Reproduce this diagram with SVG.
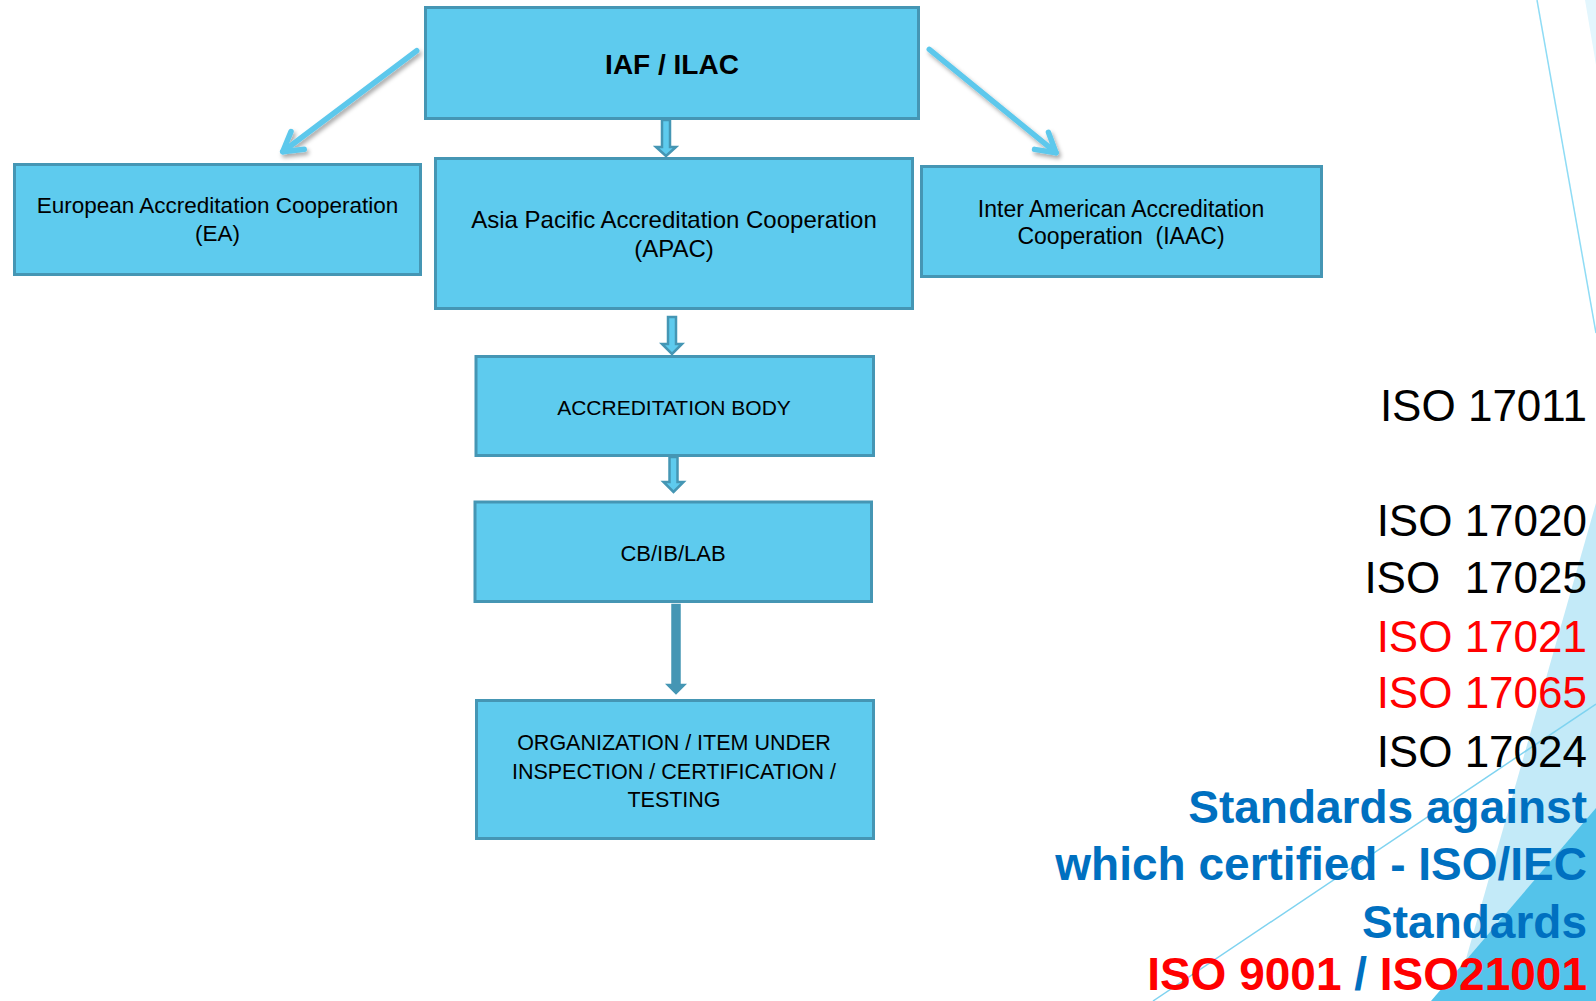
<svg xmlns="http://www.w3.org/2000/svg" width="1596" height="1001" viewBox="0 0 1596 1001">
<style>
.box{fill:#5ecbee;stroke:#4596b4;stroke-width:3}
.nt{font-family:"Liberation Sans",Arial,sans-serif;fill:#000;text-anchor:middle}
.blk{fill:#5ecbee;stroke:#4596b4;stroke-width:2.5;stroke-linejoin:miter}
.diag{fill:none;stroke:#5dc8ec;stroke-width:5.5;stroke-linecap:round;stroke-linejoin:round}
.iso{font-family:"Liberation Sans",Arial,sans-serif;font-size:44px;text-anchor:end}
.bb{font-family:"Liberation Sans",Arial,sans-serif;font-size:46px;font-weight:bold;text-anchor:end}
</style>
<defs>
<filter id="sh" x="-20%" y="-20%" width="140%" height="140%">
<feDropShadow dx="2" dy="3" stdDeviation="2" flood-color="#000" flood-opacity="0.35"/>
</filter>
<marker id="chev" markerUnits="userSpaceOnUse" markerWidth="40" markerHeight="40" viewBox="-25 -20 30 40" refX="0" refY="0" orient="auto">
<path d="M -18.7,-11 L 0,0 L -18.7,11" fill="none" stroke="#5dc8ec" stroke-width="5.5" stroke-linecap="round" stroke-linejoin="round"/>
</marker>
</defs>
<rect width="1596" height="1001" fill="#fff"/>
<g id="background">
<polygon points="1585,0 1596,0 1596,65" fill="#e3f6fd"/>
<line x1="1537" y1="0" x2="1596" y2="333" stroke="#8fdcf5" stroke-width="1.5"/>
<polygon points="1596,503 1596,1001 1454,1001" fill="#c3eaf8"/>
<polygon points="1596,808 1596,1001 1431,1001" fill="#54c3ea"/>
<line x1="1596" y1="704" x2="1153" y2="1001" stroke="#7fd3f0" stroke-width="1.5"/>
</g>
<g id="connectors">
<g filter="url(#sh)">
<line class="diag" x1="416.7" y1="50.7" x2="282.7" y2="151.7" marker-end="url(#chev)"/>
<line class="diag" x1="929.3" y1="49.3" x2="1056" y2="152.7" marker-end="url(#chev)"/>
</g>
<path class="blk" d="M662,120 V147 H656 L666,156 L676,147 H670 V120 Z"/>
<path class="blk" d="M668,317 V344 H662 L672,354 L682,344 H676 V317 Z"/>
<path class="blk" d="M669.5,457 V482 H663.5 L673.5,492 L683.5,482 H677.5 V457 Z"/>
<path class="blk" style="fill:#4596b4" d="M672.5,605 V685 H668 L676,693 L684,685 H679.5 V605 Z"/>
</g>
<g id="node-iaf">
<rect class="box" x="425.5" y="7.5" width="493" height="111"/>
<text class="nt" x="672" y="74" font-size="28" font-weight="bold">IAF / ILAC</text>
</g>
<g id="node-ea">
<rect class="box" x="14.5" y="164.5" width="406" height="110"/>
<text class="nt" x="217.5" y="213" font-size="22.5">European Accreditation Cooperation</text>
<text class="nt" x="217.5" y="240.5" font-size="22.5">(EA)</text>
</g>
<g id="node-apac">
<rect class="box" x="435.5" y="158.5" width="477" height="150"/>
<text class="nt" x="674" y="228" font-size="24">Asia Pacific Accreditation Cooperation</text>
<text class="nt" x="674" y="256.5" font-size="24">(APAC)</text>
</g>
<g id="node-iaac">
<rect class="box" x="921.5" y="166.5" width="400" height="110"/>
<text class="nt" x="1121" y="216.7" font-size="23">Inter American Accreditation</text>
<text class="nt" x="1121" y="244.3" font-size="23" xml:space="preserve">Cooperation  (IAAC)</text>
</g>
<g id="node-ab">
<rect class="box" x="476" y="356.5" width="397.5" height="99"/>
<text class="nt" x="674" y="415" font-size="21">ACCREDITATION BODY</text>
</g>
<g id="node-cb">
<rect class="box" x="475" y="502" width="396.5" height="99.5"/>
<text class="nt" x="673" y="560.7" font-size="22">CB/IB/LAB</text>
</g>
<g id="node-org">
<rect class="box" x="476.5" y="700.5" width="397" height="138"/>
<text class="nt" x="674" y="750" font-size="21.5">ORGANIZATION / ITEM UNDER</text>
<text class="nt" x="674" y="778.6" font-size="21.5">INSPECTION / CERTIFICATION /</text>
<text class="nt" x="674" y="807" font-size="21.5">TESTING</text>
</g>
<g id="standards">
<text class="iso" x="1587" y="420.7" fill="#000">ISO 17011</text>
<text class="iso" x="1587" y="535.5" fill="#000">ISO 17020</text>
<text class="iso" x="1587" y="593.3" fill="#000" xml:space="preserve">ISO  17025</text>
<text class="iso" x="1587" y="651.7" fill="#ff0000">ISO 17021</text>
<text class="iso" x="1587" y="708.3" fill="#ff0000">ISO 17065</text>
<text class="iso" x="1587" y="766.7" fill="#000">ISO 17024</text>
<text class="bb" x="1587" y="822.7" fill="#0070c0">Standards against</text>
<text class="bb" x="1587" y="880" fill="#0070c0" font-size="47">which certified - ISO/IEC</text>
<text class="bb" x="1587" y="938.3" fill="#0070c0">Standards</text>
<text class="bb" x="1587" y="990" fill="#ff0000">ISO 9001 <tspan fill="#0070c0">/</tspan> ISO21001</text>
</g>
</svg>
